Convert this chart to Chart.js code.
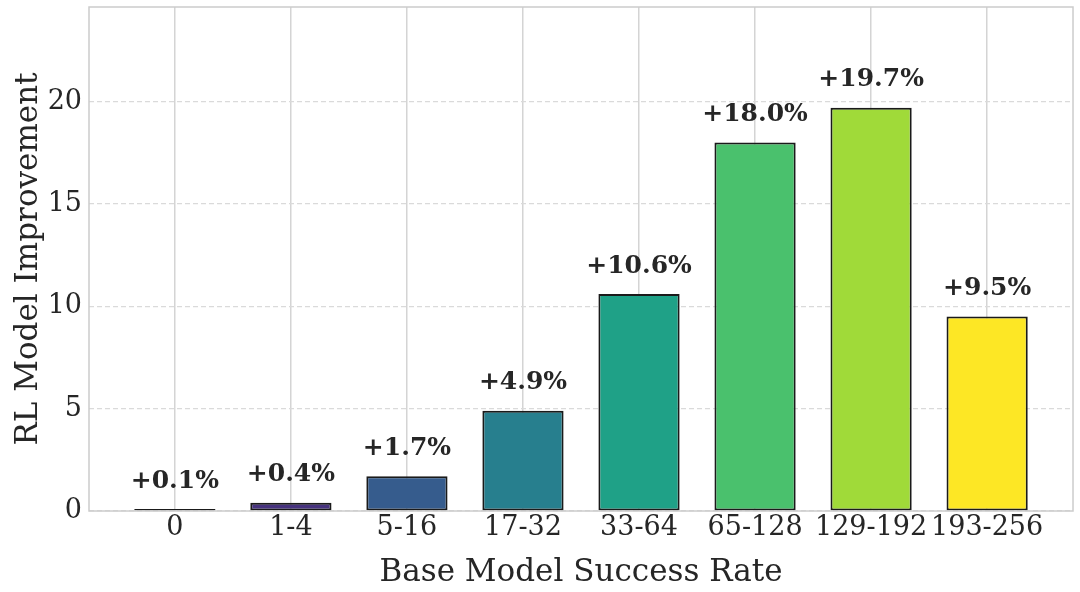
<!DOCTYPE html>
<html>
<head>
<meta charset="utf-8">
<script src="https://cdn.jsdelivr.net/npm/chart.js@4"></script>
<style>
  html, body { margin: 0; padding: 0; background: #fff; }
  #wrap { width: 1080px; height: 592px; }
</style>
</head>
<body>
<div id="wrap"><canvas id="improvementChart" width="1080" height="592"></canvas></div>
<script>
  // data
  const categories = ['0', '1-4', '5-16', '17-32', '33-64', '65-128', '129-192', '193-256'];
  const improvements = [0.1, 0.4, 1.7, 4.9, 10.6, 18.0, 19.7, 9.5];
  const yTicks = [0, 5, 10, 15, 20];
  const barColors = ['#440154', '#46327e', '#365c8d', '#277f8e', '#1fa187', '#4ac16d', '#a0da39', '#fde725'];

  const textColor = '#262626';
  const serif = "'DejaVu Serif', serif";

  // bar value labels + light frame around the plot
  const extras = {
    id: 'extras',
    afterDatasetsDraw(chart) {
      const ctx = chart.ctx;
      const xs = chart.scales.x, ys = chart.scales.y;
      ctx.save();
      ctx.fillStyle = textColor;
      ctx.font = 'bold 25px ' + serif;
      ctx.textAlign = 'center';
      ctx.textBaseline = 'bottom';
      improvements.forEach((v, i) => {
        ctx.fillText('+' + v.toFixed(1) + '%', xs.getPixelForValue(i), ys.getPixelForValue(v + 0.75));
      });
      const a = chart.chartArea;
      ctx.strokeStyle = '#cccccc';
      ctx.lineWidth = 1.5;
      ctx.strokeRect(a.left, a.top, a.right - a.left, a.bottom - a.top);
      ctx.restore();
    }
  };

  const ctx = document.getElementById('improvementChart').getContext('2d');
  new Chart(ctx, {
    type: 'bar',
    data: {
      datasets: [{
        data: improvements.map((v, i) => ({ x: i, y: v })),
        backgroundColor: barColors,
        borderColor: '#1a1a1a',
        borderWidth: 2,
        borderSkipped: false,
        barPercentage: 0.7,
        categoryPercentage: 1.0
      }]
    },
    options: {
      responsive: false,
      animation: false,
      layout: { padding: { top: 7, right: 7, left: 0, bottom: 0 } },
      plugins: { legend: { display: false }, tooltip: { enabled: false } },
      scales: {
        x: {
          type: 'linear',
          offset: false,
          min: -0.74,
          max: 7.74,
          afterBuildTicks: s => { s.ticks = categories.map((c, i) => ({ value: i })); },
          afterFit: s => { s.height = 81; s.paddingLeft = 0; s.paddingRight = 0; },
          ticks: {
            color: textColor,
            font: { family: serif, size: 27 },
            padding: 1,
            maxRotation: 0,
            autoSkip: false,
            callback: v => categories[v]
          },
          grid: { color: '#d4d4d4', lineWidth: 1.5, drawTicks: false, offset: false },
          border: { display: false },
          title: {
            display: true,
            text: 'Base Model Success Rate',
            color: textColor,
            font: { family: serif, size: 31 },
            padding: { top: 1, bottom: 0 }
          }
        },
        y: {
          min: 0,
          max: 24.625,
          afterBuildTicks: s => { s.ticks = yTicks.map(v => ({ value: v })); },
          afterFit: s => { s.width = 89; s.paddingTop = 0; s.paddingBottom = 0; },
          ticks: {
            color: textColor,
            font: { family: serif, size: 27 },
            padding: 7
          },
          grid: { color: '#dadada', lineWidth: 1.2, drawTicks: false },
          border: { display: false, dash: [5, 3] },
          title: {
            display: true,
            text: 'RL Model Improvement',
            color: textColor,
            font: { family: serif, size: 31 },
            padding: { top: 10, bottom: 0 }
          }
        }
      }
    },
    plugins: [extras]
  });
</script>
</body>
</html>
